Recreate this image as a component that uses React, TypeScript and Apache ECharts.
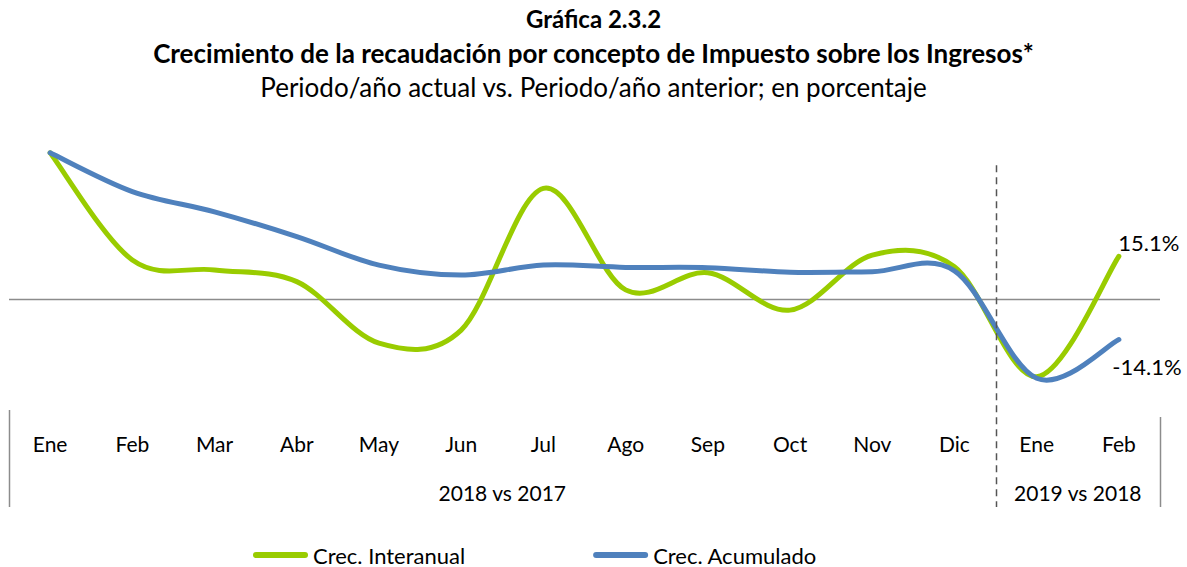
import React, { useEffect, useRef } from "react";
import * as echarts from "echarts";

const categories = ["Ene", "Feb", "Mar", "Abr", "May", "Jun", "Jul", "Ago", "Sep", "Oct", "Nov", "Dic", "Ene", "Feb"];
const groupLabels = ["2018 vs 2017", "2019 vs 2018"];
const groupSizes = [12, 2];
const interanual = [51.4, 13.8, 10.3, 6.2, -15.4, -10.8, 38.9, 3.3, 9.3, -3.8, 15.5, 11.4, -27.2, 15.1];
const acumulado = [51.4, 37.8, 30.7, 22.0, 12.0, 8.5, 12.0, 11.2, 11.1, 9.5, 9.7, 10.0, -27.7, -14.1];
const seriesNames = ["Crec. Interanual", "Crec. Acumulado"];
const titleLines = [
  "Gráfica 2.3.2",
  "Crecimiento de la recaudación por concepto de Impuesto sobre los Ingresos*",
  "Periodo/año actual vs. Periodo/año anterior; en porcentaje",
];

const FONT = "Lato";
const GREEN = "#99CC00";
const BLUE = "#4F81BD";
const LEGEND_ICON = "path://M3,0 L52,0 A3,3 0 0 1 52,6 L3,6 A3,3 0 0 1 3,0 Z";

// Smoothed (Catmull-Rom style, like a spreadsheet "smoothed line") custom series
function makeRender(vals: number[], color: string, labelDx: number, labelDy: number) {
  return (params: any, api: any) => {
    if (params.dataIndex !== 0) return null;
    const pts = vals.map((v, i) => api.coord([i, v]) as number[]);
    const n = pts.length;
    let d = `M${pts[0][0]},${pts[0][1]}`;
    for (let i = 0; i < n - 1; i++) {
      const p0 = pts[i - 1] || pts[i];
      const p1 = pts[i];
      const p2 = pts[i + 1];
      const p3 = pts[i + 2] || pts[i + 1];
      const c1x = p1[0] + (p2[0] - p0[0]) / 6;
      const c1y = p1[1] + (p2[1] - p0[1]) / 6;
      const c2x = p2[0] - (p3[0] - p1[0]) / 6;
      const c2y = p2[1] - (p3[1] - p1[1]) / 6;
      d += ` C${c1x},${c1y} ${c2x},${c2y} ${p2[0]},${p2[1]}`;
    }
    const last = pts[n - 1];
    return {
      type: "group",
      children: [
        {
          type: "path",
          shape: { pathData: d },
          style: { stroke: color, lineWidth: 5, fill: "none", lineCap: "round", lineJoin: "round" },
        },
        {
          type: "text",
          x: last[0] + labelDx,
          y: last[1] + labelDy,
          style: {
            text: vals[n - 1].toFixed(1) + "%",
            fontFamily: FONT,
            fontSize: 22,
            fill: "#000",
            align: "center",
            verticalAlign: "middle",
          },
        },
      ],
    };
  };
}

export default function App() {
  const ref = useRef<HTMLDivElement>(null);
  useEffect(() => {
    document.body.style.margin = "0";
    if (!ref.current) return;
    const chart = echarts.init(ref.current, null, { renderer: "svg" });
    const option: any = {
      animation: false,
      textStyle: { fontFamily: FONT },
      title: [
        { text: titleLines[0], left: "center", top: 1, textStyle: { fontFamily: FONT, fontSize: 24, fontWeight: "bold", color: "#000" } },
        { text: titleLines[1], left: "center", top: 35, textStyle: { fontFamily: FONT, fontSize: 26, fontWeight: "bold", color: "#000" } },
        { text: titleLines[2], left: "center", top: 69, textStyle: { fontFamily: FONT, fontSize: 26, fontWeight: "normal", color: "#000" } },
      ],
      legend: {
        left: 248,
        top: 539,
        itemWidth: 55,
        itemHeight: 6,
        itemGap: 128,
        icon: LEGEND_ICON,
        textStyle: { fontFamily: FONT, fontSize: 22, color: "#000" },
        data: seriesNames,
      },
      grid: { left: 9, right: 27, top: 128.3, bottom: 153.7 },
      xAxis: {
        type: "category",
        data: categories,
        boundaryGap: true,
        axisLine: { show: false },
        axisTick: { show: false },
        axisLabel: { margin: 20, fontFamily: FONT, fontSize: 21, color: "#000", interval: 0 },
      },
      yAxis: {
        type: "value",
        min: -40,
        max: 60,
        show: false,
        splitLine: { show: false },
      },
      series: [
        {
          name: seriesNames[0],
          type: "custom",
          data: interanual.map((v, i) => [i, v]),
          encode: { x: 0, y: 1 },
          renderItem: makeRender(interanual, GREEN, 30, -14),
          itemStyle: { color: GREEN },
          clip: false,
          z: 2,
        },
        {
          name: seriesNames[1],
          type: "custom",
          data: acumulado.map((v, i) => [i, v]),
          encode: { x: 0, y: 1 },
          renderItem: makeRender(acumulado, BLUE, 28, 27),
          itemStyle: { color: BLUE },
          clip: false,
          z: 3,
        },
      ],
    };
    chart.setOption(option);

    // Separators, zero line and group labels from the axis scales
    const px = (i: number) => chart.convertToPixel({ xAxisIndex: 0 }, i) as number;
    const py = (v: number) => chart.convertToPixel({ yAxisIndex: 0 }, v) as number;
    const step = px(1) - px(0);
    const leftEdge = px(0) - step / 2;
    const rightEdge = px(categories.length - 1) + step / 2;
    const graphics: any[] = [];
    const y0 = Math.round(py(0)) + 0.5;
    graphics.push({
      type: "line",
      z: 1,
      shape: { x1: leftEdge, y1: y0, x2: rightEdge, y2: y0 },
      style: { stroke: "#8c8c8c", lineWidth: 1.5 },
    });
    let start = 0;
    const bounds: number[] = [leftEdge];
    groupSizes.forEach((size, g) => {
      const x0 = px(start) - step / 2;
      const x1 = px(start + size - 1) + step / 2;
      bounds.push(x1);
      graphics.push({
        type: "text",
        x: (x0 + x1) / 2,
        y: 492,
        style: { text: groupLabels[g], fontFamily: FONT, fontSize: 21, fill: "#000", align: "center", verticalAlign: "middle" },
      });
      start += size;
    });
    const yTop = py(60);
    bounds.forEach((bx, k) => {
      const isInner = k > 0 && k < bounds.length - 1;
      graphics.push({
        type: "line",
        shape: { x1: Math.round(bx) + 0.5, y1: isInner ? yTop + 37 : k === 0 ? 410 : 417, x2: Math.round(bx) + 0.5, y2: 507 },
        style: isInner ? { stroke: "#555", lineWidth: 1.5, lineDash: [7, 5] } : { stroke: "#8c8c8c", lineWidth: 1.5 },
        z: 10,
      });
    });
    chart.setOption({ graphic: graphics });

    return () => chart.dispose();
  }, []);
  return <div ref={ref} style={{ width: 1187, height: 567 }} />;
}
